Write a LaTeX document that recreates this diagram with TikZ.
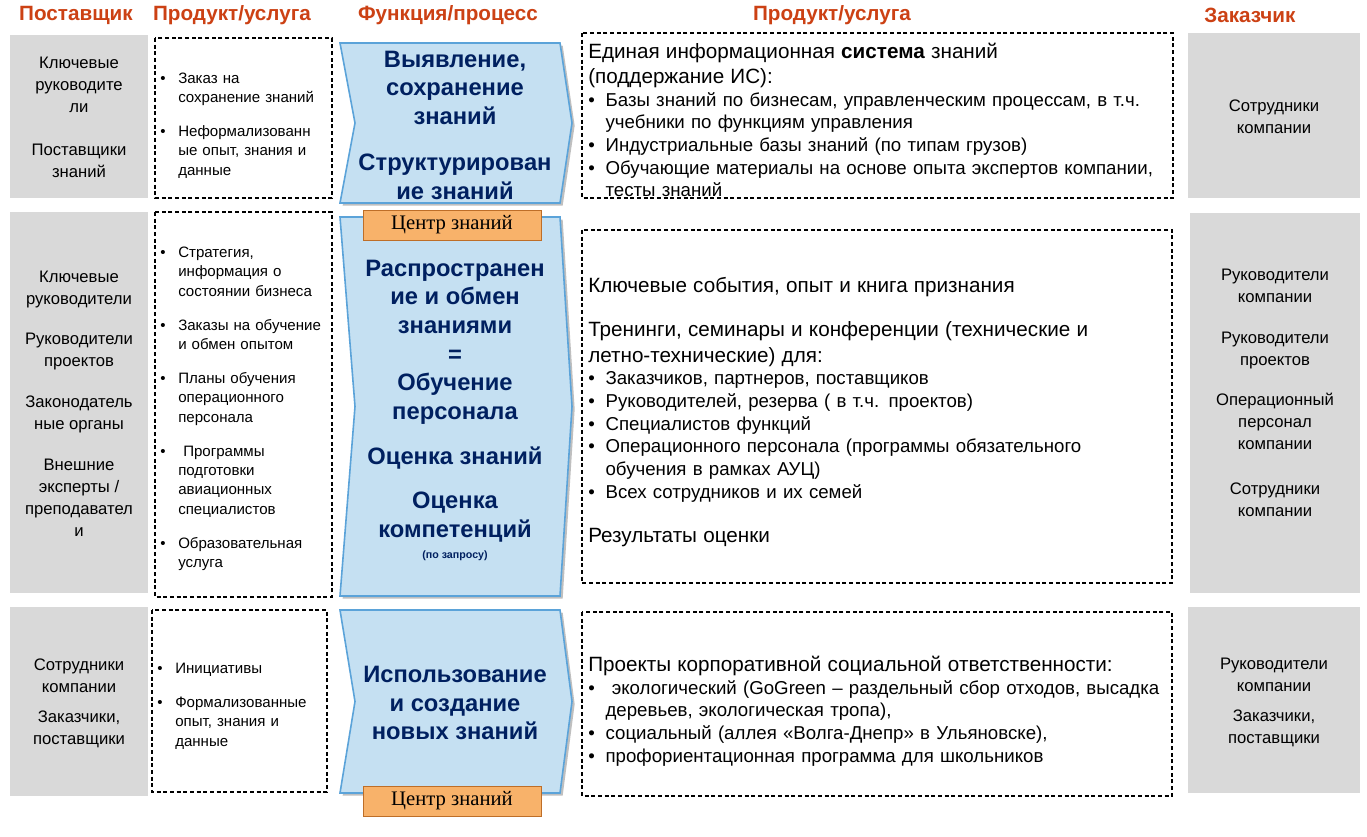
\documentclass[tikz,border=0pt]{standalone}
\usepackage{fontspec}
\setmainfont{Liberation Sans}
\newfontfamily\serifl{Liberation Serif}
\definecolor{hdr}{RGB}{204,65,20}
\definecolor{grayb}{RGB}{217,217,217}
\definecolor{chfill}{RGB}{197,224,242}
\definecolor{chdraw}{RGB}{91,163,217}
\definecolor{navy}{RGB}{0,32,96}
\definecolor{orfill}{RGB}{248,178,106}
\definecolor{ordraw}{RGB}{190,110,40}
\newcommand\bi[2]{\par\hangindent=#1\hangafter=1\noindent\makebox[#1][l]{•}#2\par}
\tikzset{
 hd/.style={text=hdr,font=\bfseries\fontsize{15.5}{17}\selectfont,inner sep=0},
 gbox/.style={fill=grayb,draw=none},
 dbox/.style={draw=black,dashed,dash pattern=on 3pt off 2pt,line width=1pt},
 chevst/.style={fill=chfill,draw=chdraw,line width=1.2pt},
 gtxt/.style={align=center,inner sep=0,font=\fontsize{12.5}{16.5}\selectfont},
 stxt/.style={align=left,anchor=west,inner sep=0,text width=200pt,font=\fontsize{11.3}{14.5}\selectfont},
 rtxt/.style={align=left,anchor=west,inner sep=0,text width=440pt,font=\fontsize{14}{17}\selectfont},
 ctxt/.style={align=center,inner sep=0,text=navy,font=\bfseries\fontsize{17.8}{21.5}\selectfont},
 olab/.style={fill=orfill,draw=ordraw,line width=0.6pt,minimum width=133.5pt,minimum height=22.5pt,inner sep=0,font=\serifl\fontsize{15.5}{17}\selectfont}
}
\newcommand\chev[2]{\fill[black!25,xshift=2pt,yshift=-2pt] (340,#1) -- (560,#1) -- (572,{(#1+#2)/2}) -- (560,#2) -- (340,#2) -- (355,{(#1+#2)/2}) -- cycle;
\draw[chevst] (340,#1) -- (560,#1) -- (572,{(#1+#2)/2}) -- (560,#2) -- (340,#2) -- (355,{(#1+#2)/2}) -- cycle;}
\newcommand\hfnt{\fontsize{15.5}{19}\selectfont}
\begin{document}
\begin{tikzpicture}[x=0.75pt,y=-0.75pt]
\useasboundingbox (0,0) rectangle (1367,837);
\fill[white] (0,0) rectangle (1367,837);
% headers
\node[hd] (h1) at (76,15) {Поставщик};
\node[hd] (h2) at (232,15) {Продукт/услуга};
\node[hd] (h3) at (448,15) {Функция/процесс};
\node[hd] (h4) at (832,15) {Продукт/услуга};
\node[hd] (h5) at (1250,15) {Заказчик};
% boxes
\fill[gbox] (10,35) rectangle (148,198);
\fill[gbox] (10,212) rectangle (148,593);
\fill[gbox] (10,607) rectangle (148,796);
\fill[gbox] (1188,33) rectangle (1360,198);
\fill[gbox] (1190,213) rectangle (1360,593);
\fill[gbox] (1188,607) rectangle (1360,793);
\draw[dbox] (155,38) rectangle (332,198);
\draw[dbox] (155,212) rectangle (332,597);
\draw[dbox] (152,610) rectangle (327,792);
\draw[dbox] (582,33) rectangle (1173,198);
\draw[dbox] (582,230) rectangle (1172,583);
\draw[dbox] (582,612) rectangle (1172,796);
\chev{43}{203}
\chev{217}{596}
\chev{610}{793}
\node[olab] (o1) at (452,225) {Центр знаний};
\node[olab] (o2) at (452,801) {Центр знаний};
% left gray
\node[gtxt] (l1) at (79,117.5) {Ключевые\\руководите\\ли\\[16pt]Поставщики\\знаний};
\node[gtxt] (l2) at (79,403.5) {Ключевые\\руководители\\[14pt]Руководители\\проектов\\[14pt]Законодатель\\ные органы\\[14pt]Внешние\\эксперты /\\преподавател\\и};
\node[gtxt] (l3) at (79,703.5) {Сотрудники\\компании\\[6pt]Заказчики,\\поставщики};
% right gray
\node[gtxt] (r1) at (1274,116.5) {Сотрудники\\компании};
\node[gtxt] (r2) at (1275,393) {Руководители\\компании\\[14pt]Руководители\\проектов\\[14pt]Операционный\\персонал\\компании\\[17pt]Сотрудники\\компании};
\node[gtxt] (r3) at (1274,702) {Руководители\\компании\\[6pt]Заказчики,\\поставщики};
% small dashed texts
\node[stxt] (s1) at (160,121) {\bi{13.5pt}{Заказ на\newline сохранение знаний}\vspace{11pt}\bi{13.5pt}{Неформализованн\newline ые опыт, знания и\newline данные}};
\node[stxt] (s2) at (160,404.5) {\bi{13.5pt}{Стратегия,\newline информация о\newline состоянии бизнеса}\vspace{11pt}\bi{13.5pt}{Заказы на обучение\newline и обмен опытом}\vspace{11pt}\bi{13.5pt}{Планы обучения\newline операционного\newline персонала}\vspace{11pt}\bi{13.5pt}{\ Программы\newline подготовки\newline авиационных\newline специалистов}\vspace{11pt}\bi{13.5pt}{Образовательная\newline услуга}};
\node[stxt] (s3) at (157,701.5) {\bi{13.5pt}{Инициативы}\vspace{11pt}\bi{13.5pt}{Формализованные\newline опыт, знания и\newline данные}};
% chevron texts
\node[ctxt] (c1) at (455,125) {Выявление,\\сохранение\\знаний\\[13pt]Структурирован\\ие знаний};
\node[ctxt] (c2) at (455,410) {Распространен\\ие и обмен\\знаниями\\=\\Обучение\\персонала\\[12pt]Оценка знаний\\[12pt]Оценка\\компетенций\\[-6pt]{\fontsize{8}{9}\selectfont (по запросу)}};
\node[ctxt] (c3) at (455,703) {Использование\\и создание\\новых знаний};
% right texts
\node[rtxt] (t1) at (588,120) {{\hfnt Единая информационная \textbf{система} знаний\newline (поддержание ИС):\par}
\bi{13pt}{Базы знаний по бизнесам, управленческим процессам, в т.ч.\newline учебники по функциям управления}
\bi{13pt}{Индустриальные базы знаний (по типам грузов)}
\bi{13pt}{Обучающие материалы на основе опыта экспертов компании,\newline тесты знаний}};
\node[rtxt] (t2) at (588,412) {{\hfnt Ключевые события, опыт и книга признания\par\vspace{14pt}
Тренинги, семинары и конференции (технические и\newline летно-технические) для:\par}
\bi{13pt}{Заказчиков, партнеров, поставщиков}
\bi{13pt}{Руководителей, резерва ( в т.ч. проектов)}
\bi{13pt}{Специалистов функций}
\bi{13pt}{Операционного персонала (программы обязательного\newline обучения в рамках АУЦ)}
\bi{13pt}{Всех сотрудников и их семей}\vspace{14pt}
{\hfnt Результаты оценки\par}};
\node[rtxt] (t3) at (588,711) {{\hfnt Проекты корпоративной социальной ответственности:\par}
\bi{13pt}{\ экологический (GoGreen – раздельный сбор отходов, высадка\newline деревьев, экологическая тропа),}
\bi{13pt}{социальный (аллея «Волга-Днепр» в Ульяновске),}
\bi{13pt}{профориентационная программа для школьников}};
\end{tikzpicture}
\end{document}
